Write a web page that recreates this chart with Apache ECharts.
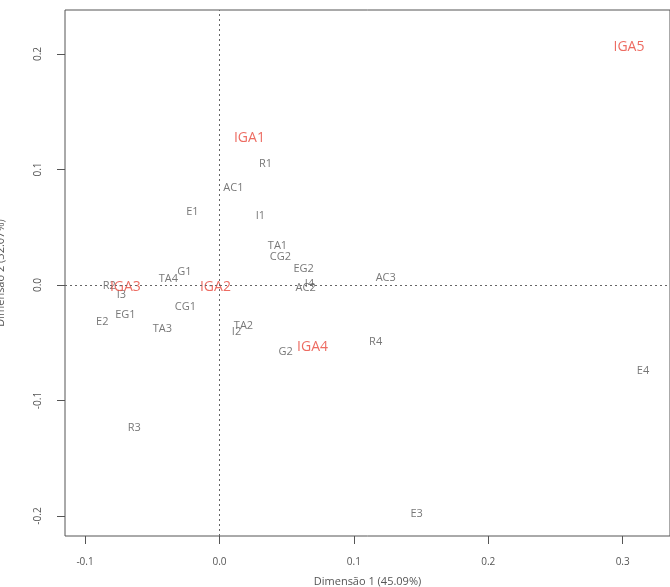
<!DOCTYPE html>
<html><head><meta charset="utf-8">
<script src="https://cdn.jsdelivr.net/npm/echarts@6/dist/echarts.min.js"></script>
<style>html,body{margin:0;padding:0;background:#fff}#c{width:670px;height:587px}</style>
</head><body><div id="c"></div>
<script>
// Variable categories (gray labels)
const varNames = ["R1","AC1","E1","I1","TA1","CG2","EG2","I4","AC2","AC3","G1","TA4","R2","I3","CG1","EG1","E2","TA3","TA2","I2","G2","R4","E4","R3","E3"];
const varDim1  = [0.0343,0.0104,-0.0201,0.0305,0.0432,0.0454,0.0626,0.0670,0.0641,0.1237,-0.0261,-0.0380,-0.0819,-0.0730,-0.0253,-0.0700,-0.0872,-0.0425,0.0179,0.0127,0.0492,0.1162,0.3151,-0.0633,0.1467];
const varDim2  = [0.1048,0.0840,0.0632,0.0597,0.0338,0.0242,0.0139,0.0009,-0.0026,0.0061,0.0113,0.0052,-0.0009,-0.0087,-0.0190,-0.0260,-0.0320,-0.0381,-0.0355,-0.0407,-0.0580,-0.0494,-0.0745,-0.1238,-0.1983];
// Group categories (red labels)
const grpNames = ["IGA1","IGA2","IGA3","IGA4","IGA5"];
const grpDim1  = [0.0223,-0.0030,-0.0700,0.0693,0.3047];
const grpDim2  = [0.1273,-0.0017,-0.0017,-0.0537,0.2061];
// Tick labels
const xTicks = [-0.1,0.0,0.1,0.2,0.3];
const yTicks = [-0.2,-0.1,0.0,0.1,0.2];

const FONT = '"Open Sans", "Noto Sans", sans-serif';
const chart = echarts.init(document.getElementById('c'));
chart.setOption({
  animation:false,
  grid:{left:65, top:10, right:0, bottom:51, containLabel:false, outerBoundsMode:'none',
        show:true, borderColor:'#555', borderWidth:1, backgroundColor:'transparent'},
  xAxis:{
    type:'value', position:'bottom', min:-0.1149, max:0.3352,
    axisLine:{show:false, onZero:false}, splitLine:{show:false},
    axisTick:{show:true, length:8, lineStyle:{color:'#555'}, customValues:xTicks},
    axisLabel:{customValues:xTicks, margin:21, color:'#555', fontSize:10, fontFamily:FONT, formatter:v=>v.toFixed(1)},
    name:'Dimensão 1 (45.09%)', nameLocation:'middle', nameGap:40,
    nameTextStyle:{color:'#555', fontSize:11, fontFamily:FONT}
  },
  yAxis:{
    type:'value', position:'left', min:-0.2173, max:0.2381,
    axisLine:{show:false, onZero:false}, splitLine:{show:false},
    axisTick:{show:true, length:8, lineStyle:{color:'#555'}, customValues:yTicks},
    axisLabel:{customValues:yTicks, rotate:90, margin:22, color:'#555', fontSize:10, fontFamily:FONT, formatter:v=>v.toFixed(1)},
    name:'Dimensão 2 (32.07%)', nameLocation:'middle', nameGap:59, nameRotate:90,
    nameTextStyle:{color:'#555', fontSize:11, fontFamily:FONT}
  },
  series:[
    {
      type:'scatter', symbolSize:0, silent:true,
      data: varNames.map((n,i)=>[varDim1[i], varDim2[i], n]),
      label:{show:true, position:'inside', formatter:p=>p.data[2], color:'#555', fontSize:11, fontFamily:FONT},
      labelLayout:{hideOverlap:false},
      markLine:{
        silent:true, symbol:'none', label:{show:false},
        lineStyle:{color:'#666', type:[2,3], width:1},
        data:[{xAxis:0},{yAxis:0}]
      },
      z:2
    },
    {
      type:'scatter', symbolSize:0, silent:true,
      data: grpNames.map((n,i)=>[grpDim1[i], grpDim2[i], n]),
      label:{show:true, position:'inside', formatter:p=>p.data[2], color:'#e8473b', fontSize:14, fontFamily:FONT},
      z:3
    }
  ]
});
</script></body></html>
